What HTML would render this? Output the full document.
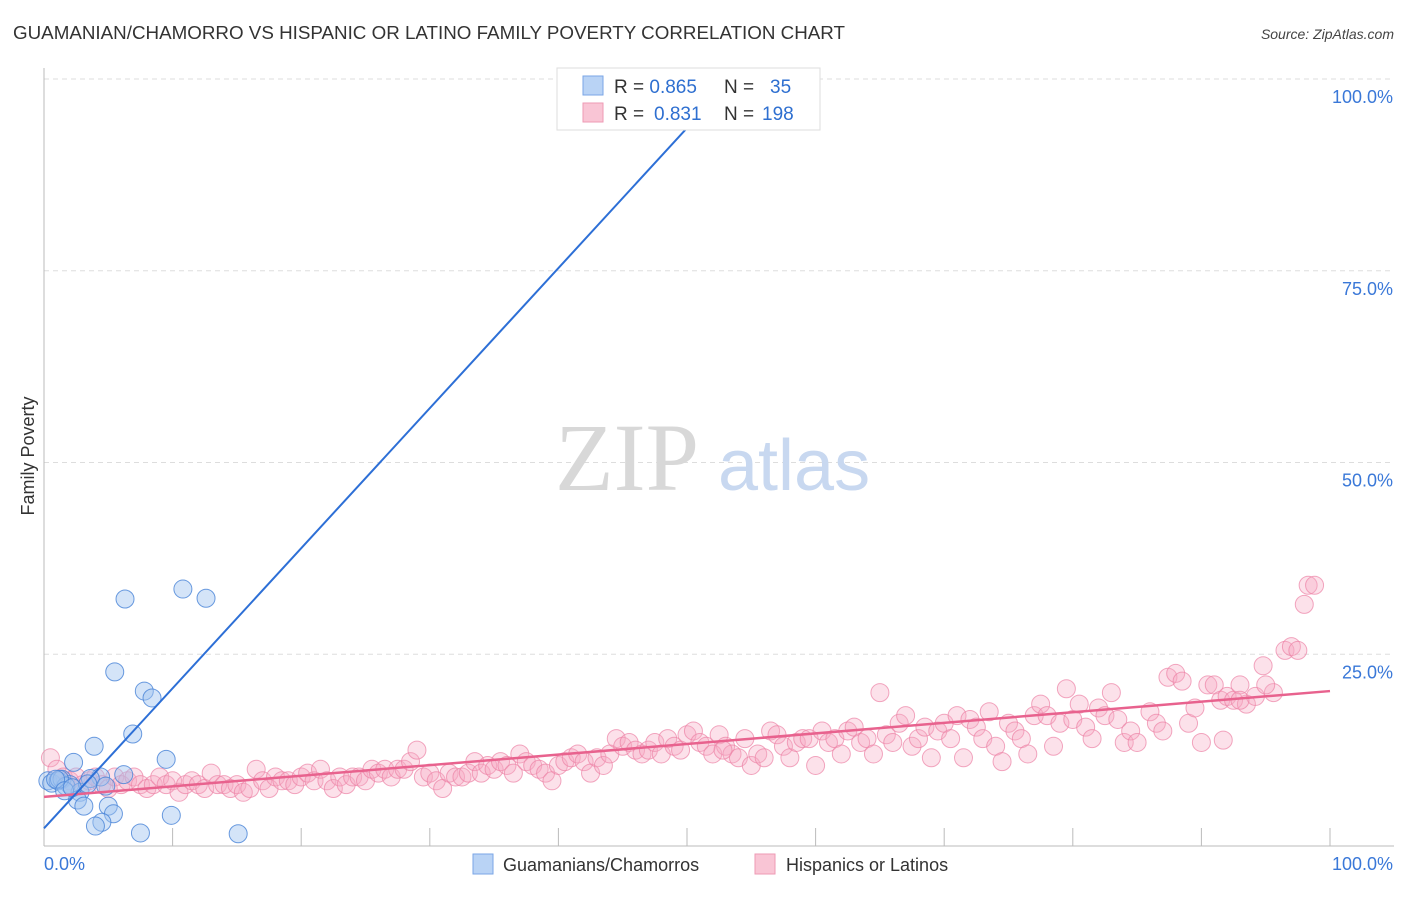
<!DOCTYPE html>
<html><head><meta charset="utf-8"><style>
body{margin:0;background:#fff;font-family:"Liberation Sans",sans-serif}
</style></head><body>
<svg id="chart" width="1406" height="892" xmlns="http://www.w3.org/2000/svg" font-family="Liberation Sans, sans-serif">
<text x="13" y="39" font-size="18" fill="#333" textLength="832" lengthAdjust="spacingAndGlyphs">GUAMANIAN/CHAMORRO VS HISPANIC OR LATINO FAMILY POVERTY CORRELATION CHART</text>
<text x="1394" y="39" font-size="14" fill="#444" font-style="italic" text-anchor="end">Source: ZipAtlas.com</text>
<g id="grid"></g>
<g>
<text x="555" y="490" font-family="Liberation Serif, serif" font-size="96" fill="#d8d8d8">ZIP</text>
<text x="718" y="490" font-size="72" fill="#c8d8f0">atlas</text>
</g>
<text transform="translate(34,456) rotate(-90)" font-size="18" fill="#333" text-anchor="middle">Family Poverty</text>
<g id="pink"></g><g id="blue"></g><g id="trends"></g>
<g>
<rect x="557" y="68" width="263" height="62" fill="#fff" stroke="#ddd"/>
<rect x="583" y="76" width="20" height="19" fill="#b9d3f5" stroke="#7aa6e6"/>
<rect x="583" y="103" width="20" height="19" fill="#f9c5d5" stroke="#ee9ab4"/>
<text x="614" y="93" font-size="19" fill="#333">R = <tspan fill="#2e6fd0">0.865</tspan><tspan x="724">N = </tspan><tspan x="770" fill="#2e6fd0">35</tspan></text>
<text x="614" y="120" font-size="19" fill="#333">R = <tspan x="654" fill="#2e6fd0">0.831</tspan><tspan x="724">N = </tspan><tspan x="762" fill="#2e6fd0">198</tspan></text>
</g>
<g>
<rect x="473" y="854" width="20" height="20" fill="#b9d3f5" stroke="#7aa6e6"/>
<text x="503" y="871" font-size="18" fill="#333">Guamanians/Chamorros</text>
<rect x="755" y="854" width="20" height="20" fill="#f9c5d5" stroke="#ee9ab4"/>
<text x="786" y="871" font-size="18" fill="#333">Hispanics or Latinos</text>
</g>
</svg>
<script>
const yTicks=[25,50,75,100];
const yTickLabels=["25.0%","50.0%","75.0%","100.0%"];
const xTicks=[10,20,30,40,50,60,70,80,90,100];
const blueX=[6.3,10.8,12.6,5.5,7.8,8.4,6.9,9.5,3.9,2.3,6.2,4.4,0.3,0.6,1.1,1.4,2.0,1.7,2.8,3.6,2.6,3.1,5.0,5.4,4.5,4.0,7.5,9.9,15.1,1.2,3.4,0.9,1.6,2.2,4.8];
const blueY=[32.2,33.5,32.3,22.7,20.2,19.3,14.6,11.3,13.0,10.9,9.3,9.0,8.5,8.2,8.5,8.7,8.0,7.8,7.0,8.8,6.0,5.2,5.2,4.2,3.1,2.6,1.7,4.0,1.6,8.7,8.1,8.7,7.2,7.6,7.8];
const pinkX=[
0.5,1,1.5,2,2.5,3,3.5,4,4.5,5,
5.5,6,6.5,7,7.5,8,8.5,9,9.5,10,
10.5,11,11.5,12,12.5,13,13.5,14,14.5,15,
15.5,16,16.5,17,17.5,18,18.5,19,19.5,20,
20.5,21,21.5,22,22.5,23,23.5,24,24.5,25,
25.5,26,26.5,27,27.5,28,28.5,29,29.5,30,
30.5,31,31.5,32,32.5,33,33.5,34,34.5,35,
35.5,36,36.5,37,37.5,38,38.5,39,39.5,40,
40.5,41,41.5,42,42.5,43,43.5,44,44.5,45,
45.5,46,46.5,47,47.5,48,48.5,49,49.5,50,
50.5,51,51.5,52,52.5,53,53.5,54,54.5,55,
55.5,56,56.5,57,57.5,58,58.5,59,59.5,60,
60.5,61,61.5,62,62.5,63,63.5,64,64.5,65,
65.5,66,66.5,67,67.5,68,68.5,69,69.5,70,
70.5,71,71.5,72,72.5,73,73.5,74,74.5,75,
75.5,76,76.5,77,77.5,78,78.5,79,79.5,80,
80.5,81,81.5,82,82.5,83,83.5,84,84.5,
85,86,86.5,87,87.4,88,88.5,89,89.5,90,
90.5,91,91.5,92,92.5,93,93.5,94.2,94.8,95.6,
96.5,97,97.5,98,98.3,98.8,91.7,95,93,52.8];
const pinkY=[
11.5,10,9,8.5,9,8,8.5,9,8,7.5,
9,8,8.5,9,8,7.5,8,9,8,8.5,
7,8,8.5,8,7.5,9.5,8,8,7.5,8,
7,7.5,10,8.5,7.5,9,8.5,8.5,8,9,
9.5,8.5,10,8.5,7.5,9,8,9,9,8.5,
10,9.5,10,9,10,10,11,12.5,9,9.5,
8.5,7.5,9.5,9,9,9.5,11,9.5,10.5,10,
11,10.5,9.5,12,11,10.5,10,9.5,8.5,10.5,
11,11.5,12,11,9.5,11.5,10.5,12,14,13,
13.5,12.5,12,12.5,13.5,12,14,13,12.5,14.5,
15,13.5,13,12,14.5,13,12,11.5,14,10.5,
12,11.5,15,14.5,13,11.5,13.5,14,14,10.5,
15,13.5,14,12,15,15.5,13.5,14,12,20,
14.5,13.5,16,17,13,14,15.5,11.5,15,16,
14,17,11.5,16.5,15.5,14,17.5,13,11,16,
15,14,12,17,18.5,17,13,16,20.5,16.5,
18.5,15.5,14,18,17,20,16.5,13.5,15,
13.5,17.5,16,15,22,22.5,21.5,16,18,13.5,
21,21,19,19.5,19,21,18.5,19.5,23.5,20,
25.5,26,25.5,31.5,34,34,13.8,21,19,12.5];
const blueTrend=[0,53.5];const blueTrendY=[2.3,100];
const pinkTrend=[0,100];const pinkTrendY=[6.4,20.2];
const X0=44,X1=1330,Y0=846,Y1=79;
const sx=v=>X0+(X1-X0)*v/100, sy=v=>Y0-(Y0-Y1)*v/100;
const NS="http://www.w3.org/2000/svg";
function mk(tag,attrs,parent){const e=document.createElementNS(NS,tag);for(const k in attrs)e.setAttribute(k,attrs[k]);parent.appendChild(e);return e;}
const grid=document.getElementById('grid');
yTicks.forEach((t,i)=>{
 const l=mk('line',{x1:X0,x2:1394,y1:sy(t),y2:sy(t),stroke:'#ddd','stroke-dasharray':'5,4'},grid);
 
 
 const tx=mk('text',{x:1393,y:sy(t)+24,'font-size':18,fill:'#3a78d8','text-anchor':'end'},grid);
 tx.textContent=yTickLabels[i];
 
 
});
const ax=mk('line',{x1:X0,x2:X0,y1:68,y2:Y0,stroke:'#bbb'},grid);


const bx=mk('line',{x1:X0,x2:1394,y1:Y0,y2:Y0,stroke:'#bbb'},grid);


xTicks.forEach(t=>{const l=mk('line',{x1:sx(t),x2:sx(t),y1:Y0,y2:Y0-18,stroke:'#bbb'},grid);
 
 });
const xl0=mk('text',{x:44,y:870,'font-size':18,fill:'#3a78d8'},grid);xl0.textContent='0.0%';


const xl1=mk('text',{x:1393,y:870,'font-size':18,fill:'#3a78d8','text-anchor':'end'},grid);xl1.textContent='100.0%';


const pg=document.getElementById('pink');
const nP=Math.min(pinkX.length,pinkY.length);
for(let i=0;i<nP;i++){const c=mk('circle',{cx:sx(pinkX[i]),cy:sy(pinkY[i]),r:9,fill:'rgba(246,170,195,0.35)',stroke:'rgba(236,130,165,0.7)','stroke-width':1},pg);
 
 }
const bg=document.getElementById('blue');
blueX.forEach((x,i)=>{const c=mk('circle',{cx:sx(x),cy:sy(blueY[i]),r:9,fill:'rgba(160,195,240,0.45)',stroke:'rgba(70,130,215,0.8)','stroke-width':1},bg);
 
 });
const tg=document.getElementById('trends');
const pl=mk('line',{x1:sx(pinkTrend[0]),y1:sy(pinkTrendY[0]),x2:sx(pinkTrend[1]),y2:sy(pinkTrendY[1]),stroke:'#e8628e','stroke-width':2.5},tg);


const bl=mk('line',{x1:sx(blueTrend[0]),y1:sy(blueTrendY[0]),x2:sx(blueTrend[1]),y2:sy(blueTrendY[1]),stroke:'#2d6fd6','stroke-width':2},tg);


</script>
</body></html>
